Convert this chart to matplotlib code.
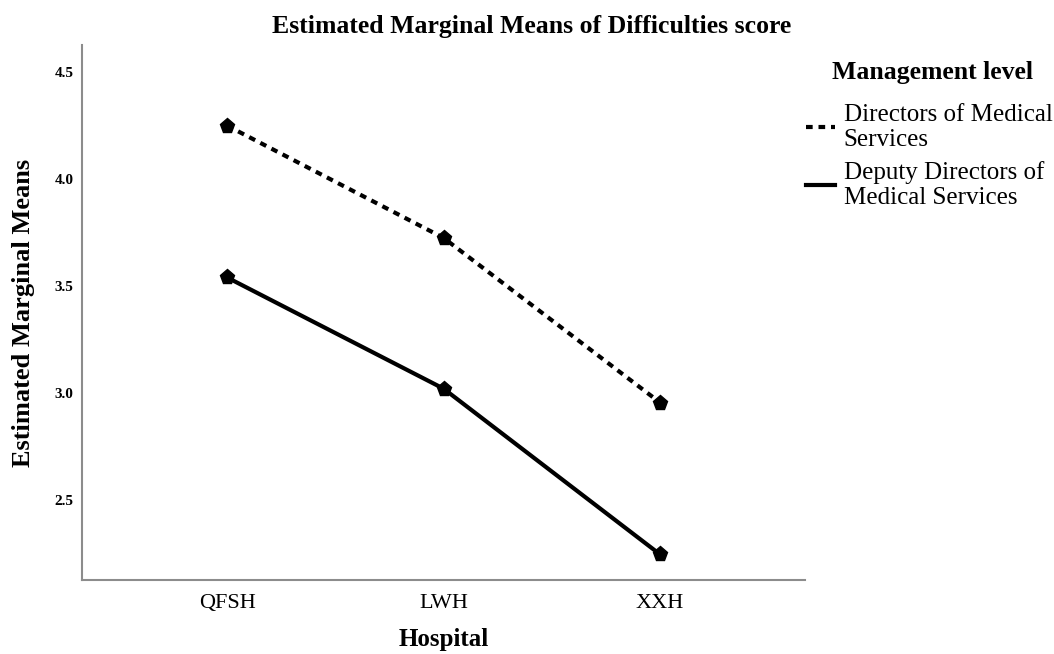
import numpy as np
import matplotlib.pyplot as plt

hospitals = ['QFSH', 'LWH', 'XXH']
directors = [4.25, 3.725, 2.955]
deputy = [3.54, 3.02, 2.245]
labels = ['Directors of Medical\nServices', 'Deputy Directors of\nMedical Services']
yticks = [2.5, 3.0, 3.5, 4.0, 4.5]

plt.rcParams['font.family'] = ['Liberation Serif', 'DejaVu Serif']

W, H = 1054, 654
fig = plt.figure(figsize=(W / 100, H / 100), dpi=100)
ax = fig.add_axes([82 / W, 1 - 580 / H, (805 - 82) / W, (580 - 45) / H])

x = np.arange(len(hospitals))
ax.plot(x, directors, color='black', linestyle=(0, (1.6, 1.4)), linewidth=3,
        marker='p', markersize=11, label=labels[0])
ax.plot(x, deputy, color='black', linestyle='-', linewidth=3,
        marker='p', markersize=11, label=labels[1])

ax.set_xlim(-0.67, 2.67)
ax.set_ylim(2.125, 4.627)
ax.set_xticks(x)
ax.set_xticklabels(hospitals, fontsize=16)
ax.set_yticks(yticks)
ax.set_yticklabels(['%.1f' % v for v in yticks], fontsize=11, fontweight='bold')
ax.tick_params(axis='y', length=0, pad=6)
ax.tick_params(axis='x', length=0, pad=10)

for s in ['top', 'right']:
    ax.spines[s].set_visible(False)
for s in ['left', 'bottom']:
    ax.spines[s].set_color('#8c8c8c')
    ax.spines[s].set_linewidth(1.5)

fig.text(532 / W, 1 - 27 / H, 'Estimated Marginal Means of Difficulties score',
         fontsize=18.5, fontweight='bold', ha='center', va='center')
ax.set_xlabel('Hospital', fontsize=18, fontweight='bold', labelpad=11)
ax.set_ylabel('Estimated Marginal Means', fontsize=19, fontweight='bold', labelpad=14)

# legend title drawn on its own so the gap above the entries can be matched
fig.text(932 / W, 1 - 73 / H, 'Management level', fontsize=18.5,
         fontweight='bold', ha='center', va='center')
leg = ax.legend(loc='upper left', bbox_to_anchor=(806 / W, 1 - 104 / H),
                bbox_transform=fig.transFigure, frameon=False,
                fontsize=18, handlelength=1.15, handletextpad=0.35,
                borderpad=0, borderaxespad=0, labelspacing=0.42)
for t in leg.get_texts():
    t.set_linespacing(1.15)
for h in leg.get_lines():
    h.set_marker('')

fig.savefig('out.png', dpi=100)
